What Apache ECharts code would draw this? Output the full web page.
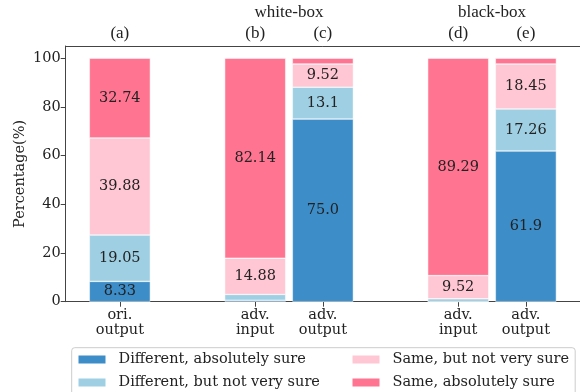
<!DOCTYPE html>
<html>
<head>
<meta charset="utf-8">
<script src="https://cdn.jsdelivr.net/npm/echarts@6/dist/echarts.min.js"></script>
<style>
  html, body { margin: 0; padding: 0; background: #fff; }
  #chart { width: 580px; height: 392px; }
</style>
</head>
<body>
<div id="chart"></div>
<script>
// Bar positions on the x axis (gaps separate the three groups)
const positions = [0, 2, 3, 5, 6];
const categoryLabels = ['ori.\noutput', 'adv.\ninput', 'adv.\noutput', 'adv.\ninput', 'adv.\noutput'];
const panelLabels = ['(a)', '(b)', '(c)', '(d)', '(e)'];
const groupPositions = [2.5, 5.5];
const groupLabels = ['white-box', 'black-box'];
const yTicks = [0, 20, 40, 60, 80, 100];

// Percentages per bar, bottom to top
const seriesNames = [
  'Different, absolutely sure',
  'Different, but not very sure',
  'Same, but not very sure',
  'Same, absolutely sure'
];
const diffSure    = [8.33, 0.60, 75.0, 0, 61.9];
const diffNotSure = [19.05, 2.38, 13.1, 1.19, 17.26];
const sameNotSure = [39.88, 14.88, 9.52, 9.52, 18.45];
const sameSure    = [32.74, 82.14, 2.38, 89.29, 2.39];
const seriesValues = [diffSure, diffNotSure, sameNotSure, sameSure];
const colors = ['#3d8dc8', '#9fcfe3', '#ffc6d3', '#ff7591'];

const serif = 'DejaVu Serif';
const times = 'Liberation Serif';
const ink = '#222';
const spine = '#444';

const fmtValue = v => (Number.isInteger(v) ? v.toFixed(1) : String(v));

const chart = echarts.init(document.getElementById('chart'), null, { renderer: 'canvas' });

// Each datum is [percentage, position]; the percentage comes first so the
// stack is accumulated on it, and encode maps it onto the y axis.
const series = seriesNames.map((name, i) => ({
  name,
  type: 'bar',
  stack: 'total',
  xAxisIndex: 0,
  yAxisIndex: 0,
  barWidth: 61,
  encode: { x: 1, y: 0 },
  data: positions.map((p, j) => [seriesValues[i][j], p]),
  itemStyle: { color: colors[i], borderColor: '#fff', borderWidth: 0.5 },
  label: {
    show: true,
    position: 'inside',
    fontFamily: serif,
    fontSize: 14.5,
    color: ink,
    formatter: p => (p.value[0] >= 5 ? fmtValue(p.value[0]) : '')
  },
  emphasis: { disabled: true },
  animation: false
}));

// One legend block per entry so the two-column layout stays fixed
const legendSlots = [
  { left: 76.5, top: 352 },
  { left: 76.5, top: 375 },
  { left: 350.5, top: 352 },
  { left: 350.5, top: 375 }
];
const legend = seriesNames.map((name, i) => ({
  data: [name], orient: 'horizontal',
  left: legendSlots[i].left, top: legendSlots[i].top,
  padding: 0, itemWidth: 29, itemHeight: 10, icon: 'rect', z: 5,
  selectedMode: false,
  textStyle: { fontFamily: serif, fontSize: 14.5, color: ink, padding: [0, 0, 0, 7] }
}));

const option = {
  backgroundColor: '#fff',
  animation: false,
  grid: { left: 65.7, top: 46, width: 515, height: 255.7, containLabel: false },
  xAxis: [
    {
      type: 'value', position: 'bottom', min: -0.8, max: 6.8,
      splitLine: { show: false },
      axisLine: { show: true, onZero: false, lineStyle: { color: spine, width: 1 } },
      axisTick: { show: true, customValues: positions, length: 5, lineStyle: { color: spine } },
      axisLabel: {
        customValues: positions,
        formatter: v => categoryLabels[positions.indexOf(v)] || '',
        fontFamily: serif, fontSize: 14.5, color: ink, lineHeight: 15, margin: 6
      }
    },
    {
      type: 'value', position: 'top', min: -0.8, max: 6.8,
      splitLine: { show: false },
      axisLine: { show: true, onZero: false, lineStyle: { color: spine, width: 1 } },
      axisTick: { show: false },
      axisLabel: {
        customValues: positions,
        formatter: v => panelLabels[positions.indexOf(v)] || '',
        fontFamily: times, fontSize: 17, color: ink, margin: 4
      }
    },
    {
      type: 'value', position: 'top', offset: 21, min: -0.8, max: 6.8,
      splitLine: { show: false },
      axisLine: { show: false },
      axisTick: { show: false },
      axisLabel: {
        customValues: groupPositions,
        formatter: v => groupLabels[groupPositions.indexOf(v)] || '',
        fontFamily: times, fontSize: 17, color: ink, margin: 4
      }
    }
  ],
  yAxis: {
    type: 'value', min: 0, max: 105,
    name: 'Percentage(%)', nameLocation: 'middle', nameGap: 38,
    nameMoveOverlap: false,
    nameTextStyle: { fontFamily: serif, fontSize: 14.5, color: ink },
    splitLine: { show: false },
    axisLine: { show: true, onZero: false, lineStyle: { color: spine, width: 1 } },
    axisTick: { show: true, customValues: yTicks, length: 5, lineStyle: { color: spine } },
    axisLabel: {
      customValues: yTicks,
      fontFamily: serif, fontSize: 14.5, color: ink, margin: 5
    }
  },
  graphic: [{
    type: 'rect', z: 0,
    shape: { x: 71.7, y: 347.7, width: 503.5, height: 60, r: 3 },
    style: { fill: '#fff', stroke: '#ccc', lineWidth: 1 }
  }],
  legend,
  series
};

chart.setOption(option);
</script>
</body>
</html>
